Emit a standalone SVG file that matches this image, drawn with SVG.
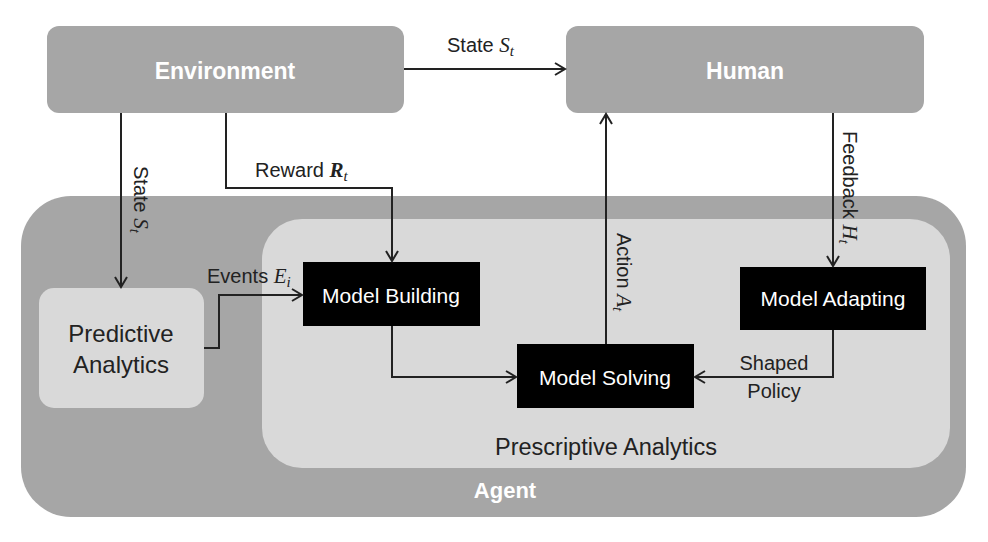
<svg xmlns="http://www.w3.org/2000/svg" width="988" height="542" viewBox="0 0 988 542">
<defs>
<marker id="arr" viewBox="-12 -8 14 16" refX="0" refY="0" markerWidth="14" markerHeight="16" markerUnits="userSpaceOnUse" orient="auto">
<path d="M-10,-6 L0,0 L-10,6" fill="none" stroke="#222" stroke-width="2"/>
</marker>
<style>
.dark{fill:#a6a6a6}
.light{fill:#d9d9d9}
.blk{fill:#000}
.wb{font-family:"Liberation Sans",Arial,sans-serif;font-weight:bold;fill:#fff;text-anchor:middle}
.wr{font-family:"Liberation Sans",Arial,sans-serif;fill:#fff;text-anchor:middle;font-size:21px}
.lbl{font-family:"Liberation Sans",Arial,sans-serif;fill:#222;font-size:20px}
.m{font-family:"Liberation Serif","Times New Roman",serif;font-style:italic}
.conn{fill:none;stroke:#222;stroke-width:2}
</style>
</defs>
<rect width="988" height="542" fill="#fff"/>
<g id="agent">
<rect class="dark" x="21" y="196" width="945" height="321" rx="50" ry="50"/>
<text class="wb" x="505" y="498" font-size="22">Agent</text>
</g>
<g id="prescriptive-analytics">
<rect class="light" x="262" y="219" width="688" height="249" rx="40" ry="40"/>
<text x="606" y="455" font-family="Liberation Sans,Arial,sans-serif" font-size="23.5" fill="#222" text-anchor="middle">Prescriptive Analytics</text>
</g>
<g id="environment">
<rect class="dark" x="47" y="26" width="357" height="87" rx="12" ry="12"/>
<text class="wb" x="225" y="79" font-size="23">Environment</text>
</g>
<g id="human">
<rect class="dark" x="566" y="26" width="358" height="87" rx="12" ry="12"/>
<text class="wb" x="745" y="79" font-size="23">Human</text>
</g>
<g id="predictive-analytics">
<rect class="light" x="39" y="288" width="165" height="120" rx="15" ry="15"/>
<text x="121" y="342" font-family="Liberation Sans,Arial,sans-serif" font-size="24" fill="#222" text-anchor="middle">Predictive</text>
<text x="121" y="373" font-family="Liberation Sans,Arial,sans-serif" font-size="24" fill="#222" text-anchor="middle">Analytics</text>
</g>
<g id="model-building">
<rect class="blk" x="303" y="262" width="177" height="64"/>
<text class="wr" x="391" y="303">Model Building</text>
</g>
<g id="model-solving">
<rect class="blk" x="517" y="344" width="177" height="64"/>
<text class="wr" x="605" y="385">Model Solving</text>
</g>
<g id="model-adapting">
<rect class="blk" x="740" y="267" width="186" height="63"/>
<text class="wr" x="833" y="306">Model Adapting</text>
</g>
<g id="connectors">
<path class="conn" d="M404,69 H565" marker-end="url(#arr)"/>
<path class="conn" d="M121,113 V287" marker-end="url(#arr)"/>
<path class="conn" d="M226,113 V188 H392 V261" marker-end="url(#arr)"/>
<path class="conn" d="M204,348 H219 V295 H302" marker-end="url(#arr)"/>
<path class="conn" d="M392,326 V377 H516" marker-end="url(#arr)"/>
<path class="conn" d="M606,344 V114" marker-end="url(#arr)"/>
<path class="conn" d="M833,113 V266" marker-end="url(#arr)"/>
<path class="conn" d="M833,330 V377 H695" marker-end="url(#arr)"/>
<text class="lbl" x="447" y="52">State <tspan class="m" font-size="21">S</tspan><tspan class="m" font-size="15" dy="4">t</tspan></text>
<text class="lbl" transform="translate(134,166) rotate(90)">State <tspan class="m" font-size="21">S</tspan><tspan class="m" font-size="15" dy="4">t</tspan></text>
<text class="lbl" x="255" y="177">Reward <tspan class="m" font-weight="bold" font-size="21">R</tspan><tspan class="m" font-size="15" dy="4">t</tspan></text>
<text class="lbl" x="207" y="283">Events <tspan class="m" font-size="21">E</tspan><tspan class="m" font-size="15" dy="4">i</tspan></text>
<text class="lbl" transform="translate(617,233) rotate(90)">Action <tspan class="m" font-size="21">A</tspan><tspan class="m" font-size="15" dy="4">t</tspan></text>
<text class="lbl" transform="translate(843,131) rotate(90)">Feedback <tspan class="m" font-size="21">H</tspan><tspan class="m" font-size="15" dy="4">t</tspan></text>
<text class="lbl" x="774" y="370" text-anchor="middle">Shaped</text>
<text class="lbl" x="774" y="398" text-anchor="middle">Policy</text>
</g>
</svg>
